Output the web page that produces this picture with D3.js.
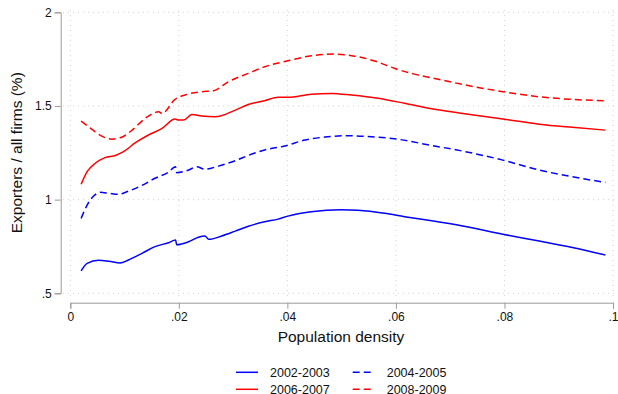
<!DOCTYPE html>
<html>
<head>
<meta charset="utf-8">
<script src="https://cdn.jsdelivr.net/npm/d3@7"></script>
<style>
  body { margin: 0; background: #fff; }
  svg { display: block; font-family: "Liberation Sans", Arial, sans-serif; }
  .grid line { stroke: #d4d4d4; stroke-width: 1; stroke-dasharray: 1,4; }
  .axis path, .axis line { stroke: #9a9a9a; }
  .axis text { fill: #111; font-size: 12px; }
  .axis-label { fill: #111; font-size: 15.5px; }
  .legend text { fill: #111; font-size: 12.5px; }
</style>
</head>
<body>
<div id="chart"></div>
<script>
const width = 618, height = 394;

// [population density, exporters / all firms (%)]
const s0203 = [[.002,.62],[.0031,.66],[.0052,.676],[.0071,.671],[.0092,.662],[.0107,.678],[.0132,.713],
  [.0156,.749],[.0181,.77],[.0194,.784],[.0196,.759],[.0218,.775],[.0236,.799],[.0248,.806],[.0255,.788],
  [.0279,.806],[.0304,.832],[.0328,.858],[.0358,.882],[.0383,.896],[.0401,.912],[.0444,.935],[.0499,.946],
  [.053,.943],[.0579,.927],[.0616,.909],[.0666,.887],[.0723,.859],[.0797,.815],[.0864,.779],[.0925,.745],[.0986,.704]];
const s0405 = [[.002,.9],[.0031,.971],[.0043,1.019],[.0055,1.039],[.0071,1.034],[.0089,1.028],[.0104,1.042],
  [.0132,1.076],[.0156,1.114],[.0181,1.147],[.0194,1.176],[.0196,1.144],[.0218,1.158],[.0233,1.176],[.0248,1.162],
  [.0273,1.179],[.0304,1.208],[.0328,1.236],[.0358,1.265],[.0395,1.286],[.0432,1.318],[.0469,1.334],[.0512,1.341],
  [.0555,1.336],[.0597,1.325],[.0666,1.289],[.0723,1.259],[.0797,1.211],[.0864,1.158],[.0925,1.122],[.0986,1.092]];
const s0607 = [[.002,1.082],[.0031,1.149],[.0046,1.194],[.0064,1.224],[.0083,1.236],[.0098,1.256],[.012,1.304],
  [.0144,1.345],[.0169,1.38],[.0193,1.43],[.0199,1.425],[.0209,1.425],[.0224,1.455],[.0242,1.446],[.0267,1.442],
  [.0304,1.478],[.0328,1.508],[.0358,1.528],[.0383,1.546],[.0401,1.546],[.0444,1.563],[.0481,1.567],[.0518,1.558],
  [.0567,1.541],[.0616,1.514],[.0666,1.485],[.0723,1.46],[.0797,1.43],[.0864,1.403],[.0925,1.386],[.0986,1.371]];
const s0809 = [[.002,1.419],[.004,1.375],[.0058,1.339],[.0077,1.323],[.0092,1.33],[.0114,1.371],[.0138,1.434],
  [.0163,1.469],[.0169,1.46],[.0193,1.535],[.0215,1.562],[.0242,1.576],[.0264,1.581],[.0291,1.629],[.0328,1.674],
  [.0358,1.709],[.0401,1.741],[.0444,1.768],[.0487,1.777],[.0524,1.766],[.0561,1.74],[.0597,1.701],[.0634,1.67],
  [.0666,1.65],[.0723,1.615],[.0797,1.576],[.0864,1.549],[.0925,1.535],[.0986,1.528]];

const seriesNames = ["2002-2003", "2004-2005", "2006-2007", "2008-2009"];
const seriesColors = ["#0000ff", "#0000ff", "#ff0000", "#ff0000"];
const seriesDashed = [false, true, false, true];
const seriesData = [s0203, s0405, s0607, s0809];

const xTicks = [0, .02, .04, .06, .08, .1];
const xTickLabels = ["0", ".02", ".04", ".06", ".08", ".1"];
const yTicks = [.5, 1, 1.5, 2];
const yTickLabels = [".5", "1", "1.5", "2"];

const x = d3.scaleLinear().domain([0, .1]).range([70.3, 613]);
const y = d3.scaleLinear().domain([.5, 2]).range([293.3, 12.3]);

const svg = d3.select("#chart").append("svg")
  .attr("width", width).attr("height", height);

// gridlines
const grid = svg.append("g").attr("class", "grid");
grid.selectAll("line.h").data(yTicks).join("line")
  .attr("class", "h")
  .attr("x1", 63).attr("x2", 616)
  .attr("y1", d => y(d)).attr("y2", d => y(d));
grid.selectAll("line.v").data(xTicks).join("line")
  .attr("class", "v")
  .attr("x1", d => x(d)).attr("x2", d => x(d))
  .attr("y1", 10).attr("y2", 296);

// axes
svg.append("g")
  .attr("class", "axis axis--y")
  .attr("transform", "translate(60.7,0)")
  .call(d3.axisLeft(y).tickValues(yTicks).tickSizeOuter(0).tickSize(6).tickPadding(3)
    .tickFormat((d, i) => yTickLabels[i]));

svg.append("g")
  .attr("class", "axis axis--x")
  .attr("transform", "translate(0,302.7)")
  .call(d3.axisBottom(x).tickValues(xTicks).tickSizeOuter(0).tickSize(6).tickPadding(4)
    .tickFormat((d, i) => xTickLabels[i]));

// lines
const line = d3.line()
  .x(d => x(d[0]))
  .y(d => y(d[1]))
  .curve(d3.curveMonotoneX);

svg.append("g").attr("class", "lines")
  .selectAll("path")
  .data(seriesData)
  .join("path")
    .attr("d", line)
    .attr("fill", "none")
    .attr("stroke", (d, i) => seriesColors[i])
    .attr("stroke-width", 1.5)
    .attr("stroke-dasharray", (d, i) => seriesDashed[i] ? "7,4" : null);

// axis titles
svg.append("text")
  .attr("class", "axis-label")
  .attr("text-anchor", "middle")
  .attr("x", 341).attr("y", 341.5)
  .text("Population density");

svg.append("text")
  .attr("class", "axis-label")
  .attr("text-anchor", "middle")
  .attr("transform", "translate(21.5,152.7) rotate(-90)")
  .text("Exporters / all firms (%)");

// legend (2 columns)
const legendPos = [[236, 372.3], [352.7, 372.3], [236, 389.3], [352.7, 389.3]];
const legend = svg.append("g").attr("class", "legend")
  .selectAll("g")
  .data(seriesNames)
  .join("g")
    .attr("transform", (d, i) => `translate(${legendPos[i][0]},${legendPos[i][1]})`);

legend.append("line")
  .attr("x1", 0).attr("x2", 22)
  .attr("stroke", (d, i) => seriesColors[i])
  .attr("stroke-width", 1.5)
  .attr("stroke-dasharray", (d, i) => seriesDashed[i] ? "7,4" : null);

legend.append("text")
  .attr("x", 34).attr("y", 4.5)
  .text(d => d);
</script>
</body>
</html>
